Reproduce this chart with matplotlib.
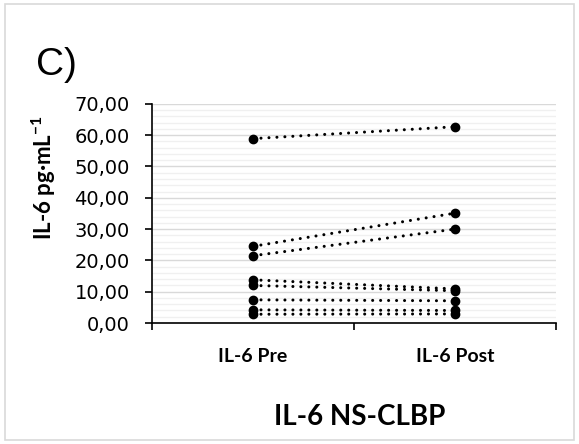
import numpy as np
import matplotlib
matplotlib.use('Agg')
import matplotlib.pyplot as plt
import matplotlib.transforms as mtransforms
from matplotlib.patches import Rectangle
from matplotlib.ticker import MultipleLocator, FuncFormatter

# paired values, IL-6 pre / post (pg/mL)
groups = ["IL-6 Pre", "IL-6 Post"]
il6_pre = [58.9, 24.5, 21.5, 13.8, 12.0, 7.4, 4.2, 2.8]
il6_post = [62.7, 35.1, 30.0, 10.9, 10.3, 7.1, 4.0, 2.9]
yticks = [0, 10, 20, 30, 40, 50, 60, 70]

plt.rcParams['font.family'] = ['Lato', 'DejaVu Sans']
plt.rcParams['mathtext.fontset'] = 'custom'
plt.rcParams['mathtext.rm'] = 'Lato'
plt.rcParams['mathtext.bf'] = 'Lato:bold'

fig = plt.figure(figsize=(5.79, 4.44), dpi=100)
fig.patches.append(Rectangle((0.008, 0.008), 0.984, 0.984, transform=fig.transFigure,
                             fill=False, edgecolor='#d9d9d9', linewidth=1.2))

ax = fig.add_axes([0.2625, 0.2725, 0.698, 0.4935])

xpos = np.arange(len(groups))
for a, b in zip(il6_pre, il6_post):
    ax.plot(xpos, [a, b], color='black', linewidth=2.2,
            linestyle=(0, (0.01, 2.6)), dash_capstyle='round',
            marker='o', markersize=6, zorder=3)

ax.set_xlim(-0.5, 1.5)
ax.set_ylim(0, 70)
ax.set_yticks(yticks)
ax.yaxis.set_minor_locator(MultipleLocator(2))
ax.yaxis.set_major_formatter(FuncFormatter(lambda v, p: f"{v:.2f}".replace('.', ',')))
ax.grid(axis='y', which='major', color='#d9d9d9', linewidth=1.0, zorder=0)
ax.grid(axis='y', which='minor', color='#f0f0f0', linewidth=1.0, zorder=0)
ax.set_axisbelow(True)

ax.set_xticks([-0.5, 0.5, 1.5])
ax.set_xticklabels([])
ax.tick_params(axis='x', which='major', direction='out', length=5, width=1.2)
ax.tick_params(axis='y', which='major', direction='out', length=5, width=1.2, pad=11,
               labelsize=14, labelfontfamily='DejaVu Sans')
ax.tick_params(axis='y', which='minor', length=0)

for s in ['top', 'right']:
    ax.spines[s].set_visible(False)
ax.spines['left'].set_linewidth(1.2)
ax.spines['bottom'].set_linewidth(1.2)

trans = mtransforms.blended_transform_factory(ax.transData, fig.transFigure)
for i, g in enumerate(groups):
    ax.text(i, 0.185, g, ha='center', va='baseline', fontsize=14, fontweight='bold',
            transform=trans, clip_on=False)

fig.text(0.076, 0.6, r"IL-6 pg·mL$\mathbf{^{-1}}$", rotation=90, ha='center', va='center',
         fontsize=16, fontweight='bold')
fig.text(0.063, 0.831, "C)", ha='left', va='baseline', fontsize=28,
         family=['Liberation Sans', 'DejaVu Sans'])
fig.text(0.622, 0.043, "IL-6 NS-CLBP", ha='center', va='baseline', fontsize=20, fontweight='bold')

fig.savefig("out.png", dpi=100)
